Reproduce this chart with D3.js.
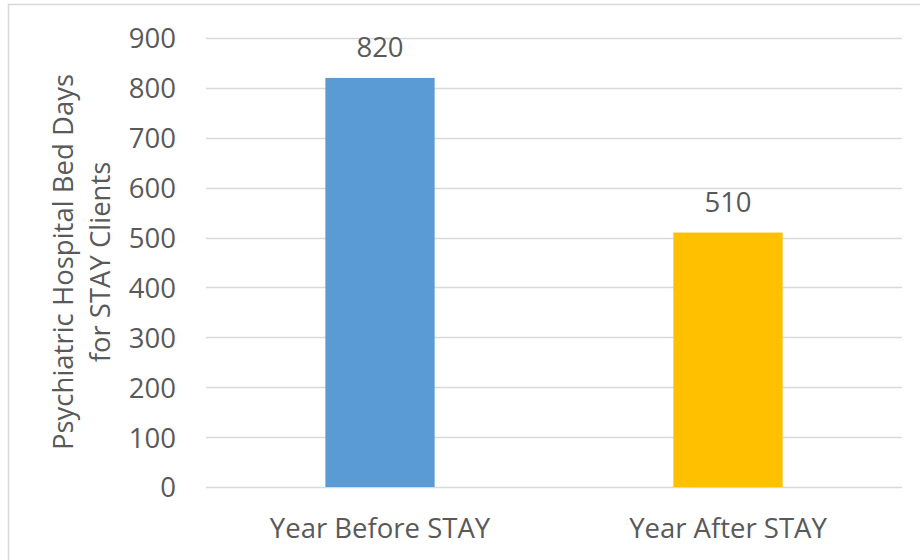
<!DOCTYPE html>
<html>
<head>
<meta charset="utf-8">
<script src="https://cdn.jsdelivr.net/npm/d3@7/dist/d3.min.js"></script>
<style>
  html, body { margin: 0; padding: 0; background: #fff; }
  svg text { font-family: "Open Sans", "Noto Sans", sans-serif; fill: #595959; }
</style>
</head>
<body>
<svg id="chart" width="920" height="560"></svg>
<script>
const categories = ["Year Before STAY", "Year After STAY"];
const values = [820, 510];
const barColors = ["#5b9bd5", "#ffc000"];
const yTicks = [0, 100, 200, 300, 400, 500, 600, 700, 800, 900];
const yTitleLines = ["Psychiatric Hospital Bed Days", "for STAY Clients"];

const fontSize = "27.5px";
const svg = d3.select("#chart");

// chart frame
svg.append("rect")
  .attr("x", 8.5).attr("y", 4.5)
  .attr("width", 1000).attr("height", 1000)
  .attr("fill", "none").attr("stroke", "#d9d9d9").attr("stroke-width", 1.5);

const plot = { left: 206, right: 902, top: 38, bottom: 487 };

const x = d3.scaleBand().domain(categories).range([plot.left, plot.right]).padding(0);
const y = d3.scaleLinear().domain([0, 900]).range([plot.bottom, plot.top]);
const barW = x.bandwidth() * 0.314;

// gridlines
svg.append("g").selectAll("line").data(yTicks).join("line")
  .attr("x1", plot.left).attr("x2", plot.right)
  .attr("y1", d => Math.round(y(d)) + 0.5).attr("y2", d => Math.round(y(d)) + 0.5)
  .attr("stroke", "#d9d9d9").attr("stroke-width", 1.3);

// y axis labels
const yAxis = d3.axisLeft(y).tickValues(yTicks).tickSize(0).tickPadding(0);
const yg = svg.append("g").attr("transform", `translate(176,0)`).call(yAxis);
yg.select(".domain").remove();
yg.selectAll("text").style("font-size", fontSize).attr("fill", "#595959").attr("dy", "0.36em");

// bars
svg.append("g").selectAll("rect").data(values).join("rect")
  .attr("x", (d, i) => x(categories[i]) + x.bandwidth() / 2 - barW / 2)
  .attr("width", barW)
  .attr("y", d => y(d))
  .attr("height", d => y(0) - y(d))
  .attr("fill", (d, i) => barColors[i]);

// value labels
svg.append("g").selectAll("text").data(values).join("text")
  .attr("x", (d, i) => x(categories[i]) + x.bandwidth() / 2)
  .attr("y", d => y(d) - 20.5)
  .attr("text-anchor", "middle")
  .style("font-size", fontSize)
  .text(d => d);

// category labels
const xAxis = d3.axisBottom(x).tickSize(0).tickPadding(0);
const xg = svg.append("g").attr("transform", `translate(0,${plot.bottom})`).call(xAxis);
xg.select(".domain").remove();
xg.selectAll("text").style("font-size", fontSize).attr("fill", "#595959").attr("dy", null).attr("y", 51);

// y axis title, two lines
const title = svg.append("text")
  .attr("transform", "translate(73,262) rotate(-90)")
  .attr("text-anchor", "middle")
  .style("font-size", fontSize);
title.selectAll("tspan").data(yTitleLines).join("tspan")
  .attr("x", 0).attr("dy", (d, i) => i === 0 ? 0 : 37)
  .text(d => d);
</script>
</body>
</html>
